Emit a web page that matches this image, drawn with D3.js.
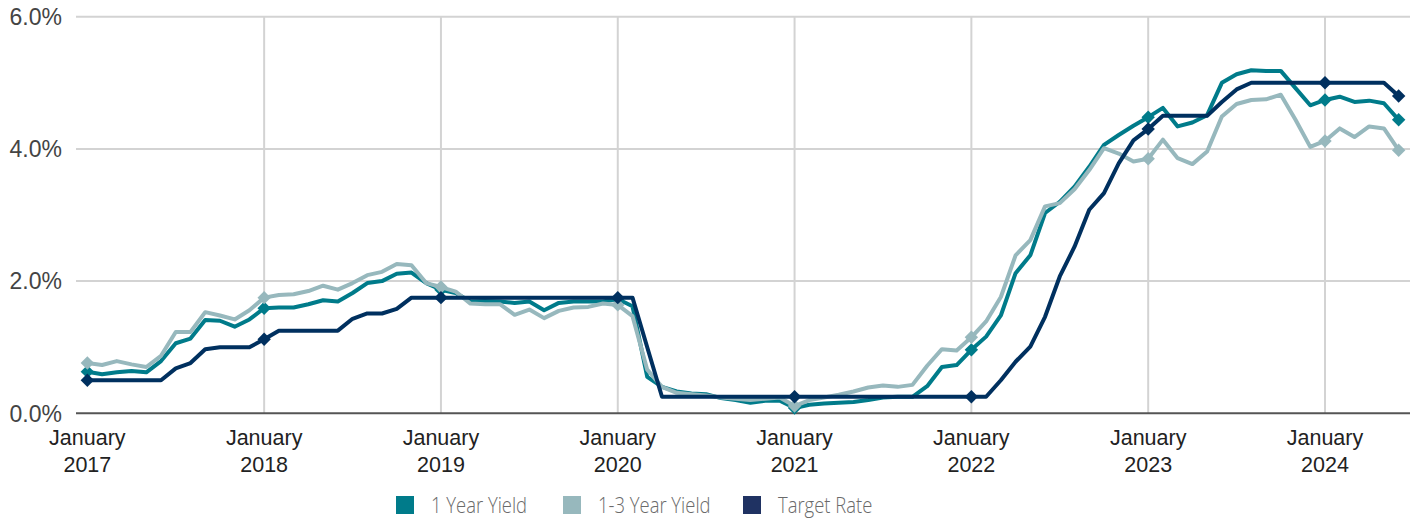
<!DOCTYPE html>
<html>
<head>
<meta charset="utf-8">
<script src="https://cdn.jsdelivr.net/npm/d3@7"></script>
<style>
  html, body { margin: 0; padding: 0; background: #fff; }
  svg { display: block; }
</style>
</head>
<body>
<svg id="chart" width="1418" height="525"></svg>
<script>
// Monthly observations, January 2017 through June 2024
const months = d3.timeMonth.range(new Date(2017, 0, 1), new Date(2024, 6, 1));

const oneYearYield = [
  0.63, 0.59, 0.62, 0.64, 0.62, 0.79, 1.06, 1.13, 1.41, 1.40, 1.31, 1.42,
  1.59, 1.60, 1.60, 1.65, 1.71, 1.69, 1.82, 1.97, 2.00, 2.11, 2.13, 1.97,
  1.87, 1.82, 1.69, 1.70, 1.69, 1.67, 1.69, 1.56, 1.67, 1.69, 1.69, 1.69,
  1.73, 1.62, 0.55, 0.40, 0.33, 0.30, 0.29, 0.23, 0.20, 0.16, 0.19, 0.19,
  0.08, 0.13, 0.15, 0.16, 0.17, 0.20, 0.24, 0.25, 0.25, 0.41, 0.70, 0.73,
  0.96, 1.16, 1.48, 2.12, 2.39, 3.03, 3.20, 3.43, 3.73, 4.06, 4.21, 4.35,
  4.48, 4.62, 4.34, 4.40, 4.51, 5.00, 5.13, 5.19, 5.18, 5.18, 4.92, 4.66,
  4.74, 4.79, 4.71, 4.73, 4.69, 4.44
];

const oneToThreeYearYield = [
  0.76, 0.73, 0.79, 0.74, 0.70, 0.87, 1.23, 1.23, 1.53, 1.48, 1.42, 1.56,
  1.75, 1.79, 1.80, 1.85, 1.93, 1.87, 1.97, 2.09, 2.14, 2.26, 2.24, 1.97,
  1.91, 1.84, 1.66, 1.65, 1.65, 1.49, 1.57, 1.44, 1.55, 1.60, 1.61, 1.66,
  1.64, 1.47, 0.66, 0.40, 0.31, 0.29, 0.27, 0.24, 0.22, 0.20, 0.22, 0.24,
  0.11, 0.20, 0.24, 0.28, 0.33, 0.39, 0.42, 0.40, 0.43, 0.72, 0.97, 0.95,
  1.15, 1.39, 1.76, 2.39, 2.62, 3.13, 3.18, 3.39, 3.68, 4.01, 3.93, 3.81,
  3.85, 4.14, 3.86, 3.77, 3.96, 4.49, 4.68, 4.74, 4.75, 4.82, 4.44, 4.03,
  4.12, 4.31, 4.18, 4.34, 4.31, 3.98
];

const targetRate = [
  0.50, 0.50, 0.50, 0.50, 0.50, 0.50, 0.68, 0.76, 0.97, 1.00, 1.00, 1.00,
  1.12, 1.25, 1.25, 1.25, 1.25, 1.25, 1.43, 1.51, 1.51, 1.58, 1.75, 1.75,
  1.75, 1.75, 1.75, 1.75, 1.75, 1.75, 1.75, 1.75, 1.75, 1.75, 1.75, 1.75,
  1.75, 1.75, 1.00, 0.25, 0.25, 0.25, 0.25, 0.25, 0.25, 0.25, 0.25, 0.25,
  0.25, 0.25, 0.25, 0.25, 0.25, 0.25, 0.25, 0.25, 0.25, 0.25, 0.25, 0.25,
  0.25, 0.25, 0.50, 0.78, 1.01, 1.46, 2.07, 2.52, 3.08, 3.33, 3.78, 4.13,
  4.30, 4.50, 4.50, 4.50, 4.50, 4.71, 4.90, 5.00, 5.00, 5.00, 5.00, 5.00,
  5.00, 5.00, 5.00, 5.00, 5.00, 4.80
];

const yTicks = [0, 2, 4, 6];
const yearLabels = ["2017", "2018", "2019", "2020", "2021", "2022", "2023", "2024"];
const seriesNames = ["1 Year Yield", "1-3 Year Yield", "Target Rate"];
const seriesColors = ["#007b8a", "#97b8bd", "#00305f"];
const legendColors = ["#007b8a", "#97b8bd", "#1f3262"];

const series = [oneYearYield, oneToThreeYearYield, targetRate];

const svg = d3.select("#chart");
const plotLeft = 76, plotRight = 1410, plotTop = 16.7, plotBottom = 413.3;

const x = d3.scalePoint()
  .domain(months.map(d => +d))
  .range([plotLeft, plotRight])
  .padding(0.77);

const y = d3.scaleLinear().domain([0, 6]).range([plotBottom, plotTop]);

// Horizontal gridlines
svg.append("g")
  .selectAll("line")
  .data(yTicks.filter(t => t > 0))
  .join("line")
  .attr("x1", plotLeft).attr("x2", plotRight)
  .attr("y1", d => y(d)).attr("y2", d => y(d))
  .attr("stroke", "#d3d3d3").attr("stroke-width", 2);

// Vertical gridlines at each January after the first
const januaries = months.filter(d => d.getMonth() === 0);
svg.append("g")
  .selectAll("line")
  .data(januaries.slice(1))
  .join("line")
  .attr("x1", d => x(+d)).attr("x2", d => x(+d))
  .attr("y1", plotTop).attr("y2", plotBottom)
  .attr("stroke", "#d3d3d3").attr("stroke-width", 2);

// Y-axis labels
svg.append("g")
  .selectAll("text")
  .data(yTicks)
  .join("text")
  .attr("x", 62)
  .attr("y", d => y(d) + 8.3)
  .attr("text-anchor", "end")
  .attr("font-family", "'Liberation Sans', Arial, sans-serif")
  .attr("font-size", 23)
  .attr("fill", "#444")
  .text(d => d3.format(".1f")(d) + "%");

// X-axis labels: month over year
const xl = svg.append("g")
  .selectAll("g")
  .data(januaries)
  .join("g")
  .attr("transform", d => `translate(${x(+d)},0)`)
  .attr("font-family", "'Liberation Sans', Arial, sans-serif")
  .attr("font-size", 21.5)
  .attr("fill", "#222")
  .attr("text-anchor", "middle");
xl.append("text").attr("y", 445).text("January");
xl.append("text").attr("y", 471.5).text((d, i) => yearLabels[i]);

// Baseline
svg.append("line")
  .attr("x1", plotLeft).attr("x2", plotRight)
  .attr("y1", y(0)).attr("y2", y(0))
  .attr("stroke", "#555").attr("stroke-width", 2);

// Lines and diamond markers
const line = d3.line()
  .x((d, i) => x(+months[i]))
  .y(d => y(d));

const markerIdx = months.map((d, i) => i)
  .filter(i => months[i].getMonth() === 0 || i === months.length - 1);
const diamond = d3.symbol(d3.symbolSquare, 90);

series.forEach((vals, k) => {
  svg.append("path")
    .datum(vals)
    .attr("d", line)
    .attr("fill", "none")
    .attr("stroke", seriesColors[k])
    .attr("stroke-width", 4)
    .attr("stroke-linejoin", "round");
  svg.append("g")
    .selectAll("path")
    .data(markerIdx)
    .join("path")
    .attr("d", diamond)
    .attr("transform", i => `translate(${x(+months[i])},${y(vals[i])}) rotate(45)`)
    .attr("fill", seriesColors[k]);
});

// Legend (narrow, light face)
const legendX = [396, 563, 743];
const lg = svg.append("g")
  .selectAll("g")
  .data(seriesNames)
  .join("g")
  .attr("transform", (d, i) => `translate(${legendX[i]},496)`);
lg.append("rect")
  .attr("width", 18).attr("height", 18)
  .attr("fill", (d, i) => legendColors[i]);
lg.append("text")
  .attr("transform", "translate(35,17) scale(0.82,1)")
  .attr("font-family", "'Open Sans', sans-serif")
  .attr("font-weight", 300)
  .attr("font-size", 22.5)
  .attr("fill", "#6a6a6a")
  .text(d => d);
</script>
</body>
</html>
